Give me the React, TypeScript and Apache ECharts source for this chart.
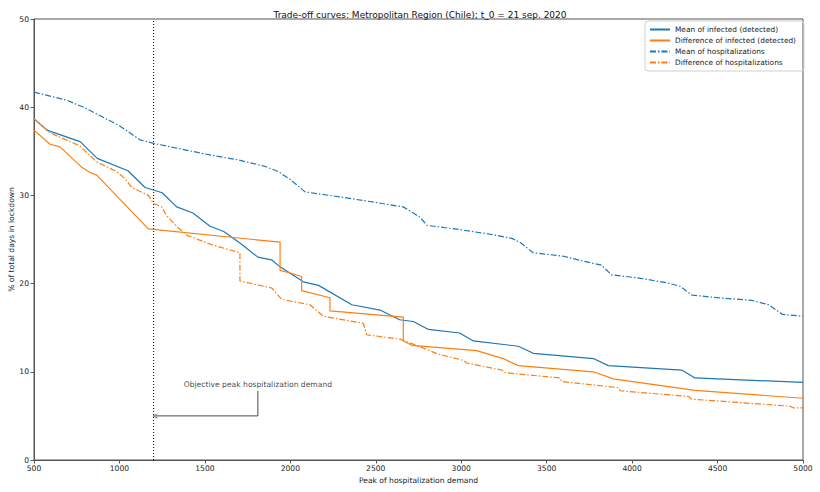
import React, { useEffect, useRef } from "react";
import * as echarts from "echarts";

const TITLE = "Trade-off curves: Metropolitan Region (Chile); t_0 = 21 sep. 2020";
const X_NAME = "Peak of hospitalization demand";
const Y_NAME = "% of total days in lockdown";
const ANNOT_TEXT = "Objective peak hospitalization demand";

const SERIES_NAMES = [
  "Mean of infected (detected)",
  "Difference of infected (detected)",
  "Mean of hospitalizations",
  "Difference of hospitalizations",
];

const MI_X = [500, 575, 770, 870, 1050, 1150, 1250, 1335, 1430, 1530, 1610, 1705, 1810, 1890, 1940, 2076, 2165, 2360, 2525, 2640, 2720, 2808, 2990, 3071, 3334, 3422, 3773, 3861, 4290, 4368, 5000];
const MI_Y = [38.7, 37.4, 36.1, 34.2, 32.8, 30.9, 30.3, 28.7, 28.0, 26.5, 25.9, 24.6, 23.0, 22.7, 21.9, 20.2, 19.8, 17.6, 17.0, 15.9, 15.7, 14.8, 14.4, 13.5, 12.9, 12.1, 11.5, 10.7, 10.2, 9.3, 8.8];

const DI_X = [500, 594, 652, 779, 828, 867, 1169, 1940, 1940, 1998, 2066, 2066, 2232, 2232, 2661, 2661, 2711, 3090, 3246, 3334, 3773, 3890, 4368, 5000];
const DI_Y = [37.4, 35.8, 35.5, 33.2, 32.6, 32.3, 26.2, 24.7, 21.5, 21.2, 20.8, 19.2, 18.4, 16.9, 16.2, 13.5, 13.0, 12.4, 11.5, 10.7, 10.0, 9.2, 7.9, 7.0];

const MH_X = [500, 690, 790, 1000, 1120, 1200, 1500, 1700, 1850, 1930, 2000, 2086, 2300, 2500, 2660, 2720, 2760, 2800, 3000, 3200, 3300, 3350, 3420, 3600, 3700, 3820, 3880, 4050, 4200, 4280, 4350, 4500, 4700, 4800, 4880, 5000];
const MH_Y = [41.7, 40.8, 40.0, 37.9, 36.3, 35.9, 34.7, 34.0, 33.3, 32.7, 31.8, 30.4, 29.8, 29.2, 28.7, 28.0, 27.5, 26.6, 26.1, 25.5, 25.1, 24.6, 23.5, 23.1, 22.6, 22.1, 21.0, 20.6, 20.1, 19.7, 18.7, 18.4, 18.1, 17.6, 16.5, 16.3];

const DH_X = [500, 594, 769, 867, 984, 1033, 1072, 1169, 1198, 1247, 1276, 1335, 1393, 1540, 1705, 1705, 1891, 1950, 2115, 2193, 2427, 2447, 2642, 2711, 2866, 3013, 3032, 3237, 3256, 3578, 3588, 3920, 3930, 4330, 4349, 4925, 4944, 5000];
const DH_Y = [38.7, 37.1, 35.6, 33.8, 32.7, 31.9, 30.9, 30.0, 29.1, 28.7, 27.7, 26.5, 25.5, 24.4, 23.5, 20.3, 19.5, 18.2, 17.6, 16.3, 15.5, 14.2, 13.7, 13.2, 12.0, 11.3, 11.0, 10.2, 9.9, 9.3, 8.9, 8.2, 7.85, 7.2, 6.9, 6.1, 5.9, 5.9];

const X_MIN = 500;
const X_MAX = 5000;
const X_STEP = 500;
const Y_MIN = 0;
const Y_MAX = 50;
const Y_STEP = 10;

const OBJECTIVE = 1200;
const ANNOT_X = 1810;
const ANNOT_TEXT_Y = 8.6;
const ANNOT_START_Y = 7.85;
const ARROW_Y = 5;
const ARROW_TIP_X = 1208;

const BLUE = "#1f77b4";
const ORANGE = "#ff7f0e";
const FONT = "DejaVu Sans";
const DASHDOT = [6, 2, 1.5, 2];

const zip = (xs: number[], ys: number[]) => xs.map((x, i) => [x, ys[i]]);

export default function App() {
  const ref = useRef<HTMLDivElement>(null);
  useEffect(() => {
    document.body.style.margin = "0";
    const chart = echarts.init(ref.current!, null, { renderer: "svg" });
    const lineSeries = (name: string, data: number[][], color: string, dashed: boolean) => ({
      name,
      type: "line",
      data,
      showSymbol: false,
      symbol: "none",
      color,
      lineStyle: { color, width: 1.2, type: dashed ? DASHDOT : "solid" },
      z: 3,
    });
    chart.setOption({
      animation: false,
      backgroundColor: "#ffffff",
      textStyle: { fontFamily: FONT },
      title: {
        text: TITLE,
        left: 415,
        top: 5,
        textAlign: "center",
        textStyle: { fontFamily: FONT, fontSize: 9, fontWeight: "normal", color: "#111" },
      },
      grid: {
        left: 34,
        right: 17,
        top: 19,
        bottom: 32,
        containLabel: false,
        outerBoundsMode: "none",
        show: true,
        borderColor: "#555",
        borderWidth: 1,
        backgroundColor: "transparent",
      },
      legend: {
        data: SERIES_NAMES,
        orient: "vertical",
        right: 16,
        top: 21,
        itemWidth: 20,
        itemHeight: 8,
        itemGap: 4,
        padding: [5, 8, 5, 4],
        borderColor: "#d0d0d0",
        borderWidth: 1,
        borderRadius: 3,
        itemStyle: { opacity: 0 },
        textStyle: { fontFamily: FONT, fontSize: 7.4, color: "#222" },
      },
      xAxis: {
        type: "value",
        min: X_MIN,
        max: X_MAX,
        interval: X_STEP,
        name: X_NAME,
        nameLocation: "middle",
        nameGap: 16,
        nameTextStyle: { fontFamily: FONT, fontSize: 7.6, color: "#222" },
        splitLine: { show: false },
        axisLine: { lineStyle: { color: "#555", width: 1 } },
        axisTick: { inside: false, length: 3.5, lineStyle: { color: "#555" } },
        axisLabel: { fontFamily: FONT, fontSize: 7.6, color: "#222", margin: 4, formatter: (v: number) => String(v) },
      },
      yAxis: {
        type: "value",
        min: Y_MIN,
        max: Y_MAX,
        interval: Y_STEP,
        name: Y_NAME,
        nameLocation: "middle",
        nameGap: 19,
        nameMoveOverlap: false,
        nameRotate: 90,
        nameTextStyle: { fontFamily: FONT, fontSize: 7.6, color: "#222" },
        splitLine: { show: false },
        axisLine: { show: true, lineStyle: { color: "#555", width: 1 } },
        axisTick: { show: true, inside: false, length: 3.5, lineStyle: { color: "#555" } },
        axisLabel: { fontFamily: FONT, fontSize: 7.6, color: "#222", margin: 5 },
      },
      series: [
        lineSeries(SERIES_NAMES[0], zip(MI_X, MI_Y), BLUE, false),
        lineSeries(SERIES_NAMES[1], zip(DI_X, DI_Y), ORANGE, false),
        lineSeries(SERIES_NAMES[2], zip(MH_X, MH_Y), BLUE, true),
        lineSeries(SERIES_NAMES[3], zip(DH_X, DH_Y), ORANGE, true),
        {
          name: "objective",
          type: "line",
          data: [[OBJECTIVE, Y_MIN], [OBJECTIVE, Y_MAX]],
          symbol: "none",
          lineStyle: { color: "#000", width: 1, type: [1, 2] },
          z: 2,
          silent: true,
        },
        {
          name: "arrow",
          type: "line",
          data: [
            [ANNOT_X, ANNOT_START_Y],
            [ANNOT_X, ARROW_Y],
            {
              value: [ARROW_TIP_X, ARROW_Y],
              symbol: "path://M10,0 L0,5 L10,10 L10,8.8 L2.2,5 L10,1.2 Z",
              symbolSize: [5, 5],
              symbolKeepAspect: false,
              itemStyle: { color: "#333" },
            },
          ],
          symbol: "none",
          showSymbol: true,
          lineStyle: { color: "#333", width: 0.9 },
          z: 2,
          silent: true,
        },
        {
          name: "annotation",
          type: "scatter",
          data: [[ANNOT_X, ANNOT_TEXT_Y]],
          symbolSize: 0,
          label: {
            show: true,
            position: "inside",
            formatter: ANNOT_TEXT,
            fontFamily: FONT,
            fontSize: 7.6,
            color: "#111",
          },
          silent: true,
        },
      ],
    });
    return () => chart.dispose();
  }, []);
  return <div ref={ref} style={{ width: 820, height: 492 }} />;
}
